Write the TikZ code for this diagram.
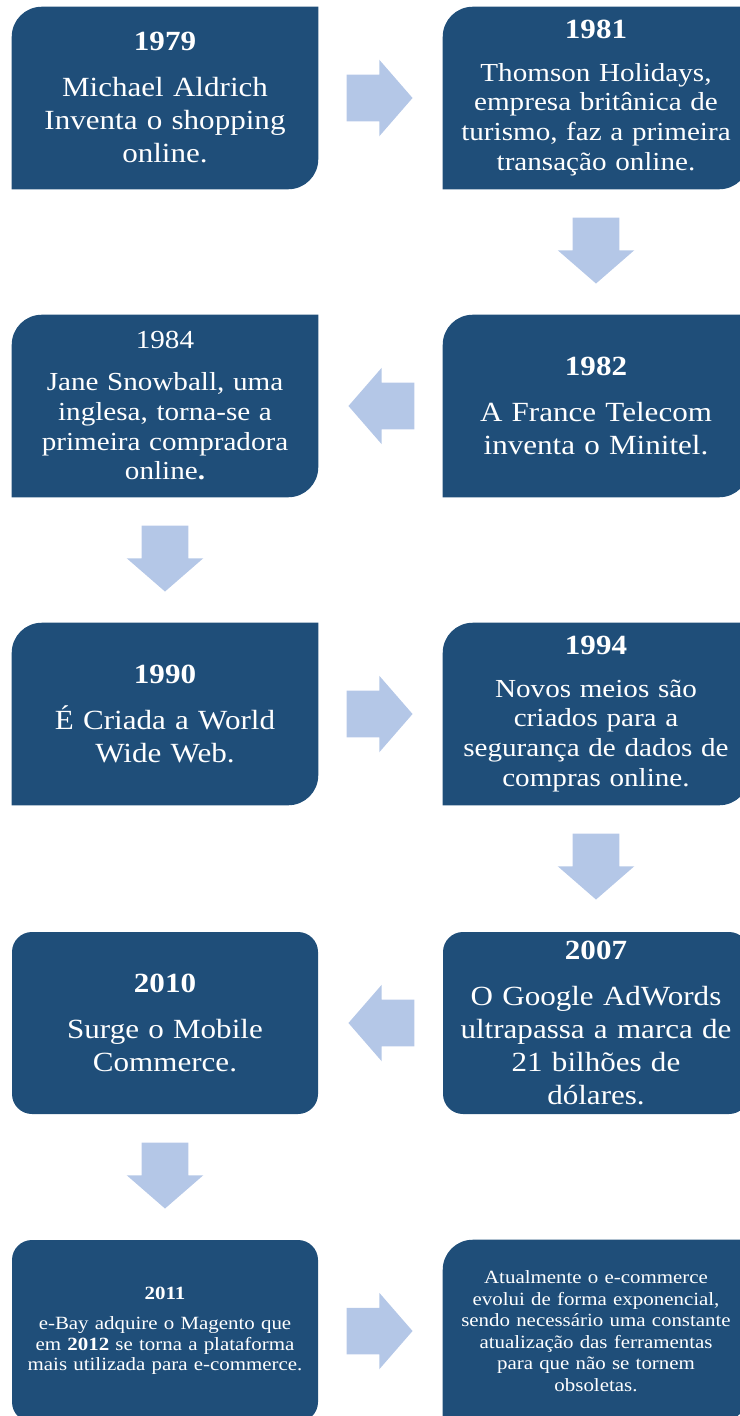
\documentclass[tikz,border=0pt]{standalone}
\usepackage{fontspec}
\setmainfont{Liberation Serif}[FakeStretch=1.12]
\usetikzlibrary{positioning,calc,shapes.arrows,backgrounds}
\definecolor{boxblue}{HTML}{1F4E79}
\definecolor{arrowblue}{HTML}{B4C7E7}
\newcommand{\yr}[1]{{\fontsize{20.8}{25}\selectfont\bfseries #1}}
\tikzset{
  box/.style={minimum width=229.5pt, minimum height=136.5pt, inner sep=0pt, text width=225pt, align=center, text=white, font=\fontsize{20.8}{24.75}\selectfont},
  tightbox/.style={box, font=\fontsize{19.5}{22.3}\selectfont},
  roundbox/.style={box, fill=boxblue, rounded corners=15pt},
  flowarrow/.style={single arrow, fill=arrowblue, minimum height=49.5pt, minimum width=57pt, inner xsep=0pt, inner ysep=17.25pt, single arrow head extend=11.25pt, single arrow tip angle=98},
}
\begin{document}
\begin{tikzpicture}[x=0.75pt, y=-0.75pt]
      \useasboundingbox (0,0) rectangle (739,1416);
      % Boxes
      \node[box] at (165, 98) (b1979) {\yr{1979}\\[9.75pt]Michael Aldrich\\Inventa o shopping\\online.};
      \node[tightbox] at (596, 98) (b1981) {\yr{1981}\\[9.5pt]Thomson Holidays,\\empresa britânica de\\turismo, faz a primeira\\transação online.};
      \node[tightbox] at (165, 406) (b1984) {{\fontsize{19.5}{24}\selectfont 1984}\\[9pt]Jane Snowball, uma\\inglesa, torna-se a\\primeira compradora\\online\textbf{.}};
      \node[box] at (596, 406) (b1982) {\yr{1982}\\[9.75pt]A France Telecom\\inventa o Minitel.};
      \node[box] at (165, 714) (b1990) {\yr{1990}\\[9.75pt]É Criada a World\\Wide Web.};
      \node[tightbox] at (596, 714) (b1994) {\yr{1994}\\[9.5pt]Novos meios são\\criados para a\\segurança de dados de\\compras online.};
      \node[roundbox] at (165, 1023) (b2010) {\yr{2010}\\[9.75pt]Surge o Mobile\\Commerce.};
      \node[roundbox] at (596, 1023) (b2007) {\yr{2007}\\[9.75pt]O Google AdWords\\ultrapassa a marca de\\21 bilhões de\\dólares.};
      \node[roundbox, font=\fontsize{14}{15.4}\selectfont] at (165, 1331) (b2011) {{\fontsize{14}{17}\selectfont\bfseries 2011}\\[7pt]e-Bay adquire o Magento que\\em \textbf{2012} se torna a plataforma\\mais utilizada para e-commerce.};
      \node[box, font=\fontsize{14}{16.1}\selectfont] at (596, 1331) (bhoje) {Atualmente o e-commerce\\evolui de forma exponencial,\\sendo necessário uma constante\\atualização das ferramentas\\para que não se tornem\\obsoletas.};

      % Box fills (round top left and bottom right)
      \begin{scope}[on background layer]
        \foreach \n in {b1979,b1981,b1984,b1982,b1990,b1994,bhoje}
          \fill[boxblue] (\n.south west) -- ([yshift=-22.5pt]\n.north west) arc[start angle=180, end angle=90, radius=22.5pt] -- (\n.north east) -- ([yshift=22.5pt]\n.south east) arc[start angle=0, end angle=-90, radius=22.5pt] -- cycle;
      \end{scope}

      % Arrows
      \node[flowarrow, anchor=tail] at ([xshift=21pt]b1979.east) (a1) {};
      \node[flowarrow, rotate=-90, anchor=tail] at ([yshift=-21pt]b1981.south) (a2) {};
      \node[flowarrow, rotate=180, anchor=tail] at ([xshift=-21pt]b1982.west) (a3) {};
      \node[flowarrow, rotate=-90, anchor=tail] at ([yshift=-21pt]b1984.south) (a4) {};
      \node[flowarrow, anchor=tail] at ([xshift=21pt]b1990.east) (a5) {};
      \node[flowarrow, rotate=-90, anchor=tail] at ([yshift=-21pt]b1994.south) (a6) {};
      \node[flowarrow, rotate=180, anchor=tail] at ([xshift=-21pt]b2007.west) (a7) {};
      \node[flowarrow, rotate=-90, anchor=tail] at ([yshift=-21pt]b2010.south) (a8) {};
      \node[flowarrow, anchor=tail] at ([xshift=21pt]b2011.east) (a9) {};
    \end{tikzpicture}
\end{document}
